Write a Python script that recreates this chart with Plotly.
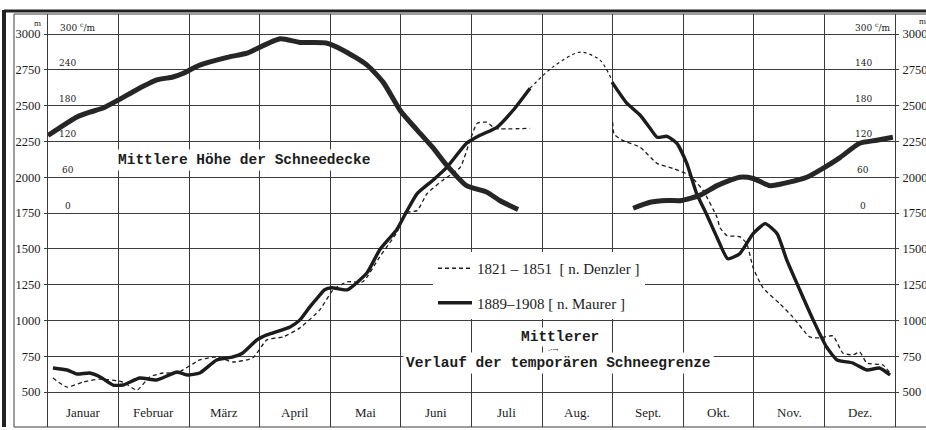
import plotly.graph_objects as go

# ---------------- data ----------------
months = ["Januar", "Februar", "März", "April", "Mai", "Juni", "Juli",
          "Aug.", "Sept.", "Okt.", "Nov.", "Dez."]
m_ticks = [500, 750, 1000, 1250, 1500, 1750, 2000, 2250, 2500, 2750, 3000]
cm_ticks = [0, 60, 120, 180, 240, 300]
cm_left_text = ["0", "60", "120", "180", "240", "300 <sup>c</sup>/m"]
cm_right_text = ["0", "60", "120", "180", "140", "300 <sup>c</sup>/m"]

# Mittlere Höhe der Schneedecke (cm)  - x in months (0 = 1. Jan)
depth_month = [0.0, 0.41, 0.59, 0.78, 0.99, 1.20, 1.54, 1.77, 1.91, 2.15, 2.54, 2.82, 2.95,
               3.29, 3.57, 3.94, 4.18, 4.52, 4.75, 4.99, 5.23, 5.45, 5.65, 5.93, 6.22, 6.40, 6.66,
               None,
               8.29, 8.53, 8.77, 8.98, 9.24, 9.48, 9.80, 9.99, 10.23, 10.47, 10.75, 10.98,
               11.22, 11.50, 11.74, 11.97]
depth_cm = [130, 161, 169, 176, 189, 203, 223, 228, 234, 248, 261, 268, 275,
            292, 286, 285, 273, 248, 219, 172, 139, 110, 80, 46, 35, 21, 6,
            None,
            8, 18, 21, 21, 30, 46, 60, 58, 46, 51, 60, 75, 93, 117, 122, 127]

# Schneegrenze 1889-1908 (n. Maurer), m
maurer_month = [0.07, 0.27, 0.41, 0.59, 0.74, 0.92, 1.06, 1.30, 1.54, 1.83, 1.97, 2.15, 2.39,
                2.62, 2.76, 2.96, 3.10, 3.43, 3.57, 3.71, 3.82, 3.92, 4.02, 4.24, 4.52, 4.70,
                4.94, 5.08, 5.23, 5.45, 5.65, 5.93, 6.12, 6.36, 6.59, 6.83,
                None,
                7.99, 8.20, 8.39, 8.53, 8.63, 8.77, 8.91, 9.05, 9.19, 9.33, 9.48, 9.63, 9.80,
                9.99, 10.16, 10.33, 10.47, 10.65, 10.84, 11.03, 11.18, 11.40, 11.60, 11.78, 11.93]
maurer_m = [668, 654, 626, 633, 605, 549, 549, 598, 584, 640, 619, 633, 724,
            745, 773, 864, 899, 955, 1004, 1095, 1160, 1214, 1228, 1214, 1333, 1494,
            1634, 1760, 1886, 1978, 2069, 2237, 2293, 2349, 2468, 2622,
            None,
            2664, 2517, 2433, 2342, 2279, 2286, 2237, 2097, 1886, 1742, 1578, 1431, 1466,
            1606, 1676, 1606, 1417, 1214, 1004, 815, 724, 703, 654, 668, 619]

# dotted interpolation (summer gap, 1889-1908)
gap_month = [6.83, 7.15, 7.54, 7.82, 7.99]
gap_m = [2622, 2769, 2874, 2818, 2678]

# Schneegrenze 1821-1851 (n. Denzler), m
denzler_month = [0.07, 0.27, 0.50, 0.74, 1.06, 1.26, 1.44, 1.63, 1.83, 2.15, 2.39, 2.62, 2.90,
                 3.10, 3.33, 3.57, 3.85, 4.04, 4.24, 4.46, 4.70, 4.94, 5.08, 5.23, 5.37, 5.59,
                 5.84, 5.98, 6.08, 6.22, 6.33, 6.83,
                 None,
                 8.00, 8.02, 8.14, 8.39, 8.63, 8.85, 9.09, 9.28, 9.48, 9.52, 9.62, 9.80, 9.90,
                 9.99, 10.13, 10.37, 10.55, 10.79, 10.93, 11.12, 11.26, 11.40, 11.50, 11.60,
                 11.83, 11.93]
denzler_m = [598, 535, 570, 591, 570, 514, 605, 633, 633, 724, 745, 710, 738,
             864, 885, 948, 1074, 1214, 1270, 1270, 1445, 1613, 1753, 1767, 1886, 1978,
             2069, 2258, 2377, 2384, 2342, 2342,
             None,
             2384, 2300, 2258, 2209, 2097, 2062, 2013, 1908, 1718, 1648, 1592, 1585, 1536,
             1368, 1228, 1116, 1025, 885, 878, 892, 773, 759, 780, 703, 689, 633]

# ---------------- layout constants ----------------
Y_MIN, Y_MAX = 256, 3140
CM_PER_M = 0.24      # 0 cm <-> 1750 m, 300 cm <-> 3000 m
CM_ZERO_M = 1750
ink = "#1c1c1c"
grid = "#3c3c3c"
serif = "Liberation Serif"
slab = "Liberation Mono"
num = "DejaVu Serif"

fig = go.Figure()

fig.add_trace(go.Scatter(x=depth_month, y=depth_cm, yaxis="y2", mode="lines",
                         line=dict(color="#262626", width=5, shape="spline", smoothing=0.6),
                         showlegend=False, hoverinfo="skip", connectgaps=False))
fig.add_trace(go.Scatter(x=denzler_month, y=denzler_m, mode="lines",
                         name="1821 – 1851  [ n. Denzler ]",
                         line=dict(color=ink, width=1.3, dash="4px,3px", shape="spline", smoothing=0.5),
                         legendgroup="a", connectgaps=False))
fig.add_trace(go.Scatter(x=maurer_month, y=maurer_m, mode="lines",
                         name="1889–1908 [ n. Maurer ]",
                         line=dict(color=ink, width=3.4, shape="spline", smoothing=0.5),
                         legendgroup="b", connectgaps=False))
fig.add_trace(go.Scatter(x=gap_month, y=gap_m, mode="lines",
                         line=dict(color=ink, width=1.2, dash="dot", shape="spline", smoothing=0.8),
                         showlegend=False, hoverinfo="skip"))
fig.add_trace(go.Scatter(x=[None], y=[None], yaxis="y3", showlegend=False, hoverinfo="skip"))

annotations = []
# month labels
for i, name in enumerate(months):
    annotations.append(dict(x=i + 0.5, y=360, xref="x", yref="y", text=name, showarrow=False,
                            font=dict(family=serif, size=13, color=ink)))
# cm labels
for v, t in zip(cm_ticks, cm_left_text):
    annotations.append(dict(x=0.28 if v != 300 else 0.14, y=v, xref="x", yref="y2", text=t,
                            showarrow=False, yshift=7, xanchor="center" if v != 300 else "left",
                            font=dict(family=num, size=9, color=ink)))
for v, t in zip(cm_ticks, cm_right_text):
    annotations.append(dict(x=11.55 if v != 300 else 11.97, y=v, xref="x", yref="y2", text=t,
                            showarrow=False, yshift=7, xanchor="center" if v != 300 else "right",
                            font=dict(family=num, size=9, color=ink)))
# units
annotations.append(dict(x=-0.006, y=0.962, xref="paper", yref="paper", text="m", showarrow=False,
                        xanchor="right", yanchor="bottom", font=dict(family=serif, size=9, color=ink)))
annotations.append(dict(x=1.026, y=0.965, xref="paper", yref="paper", text="m", showarrow=False,
                        xanchor="left", yanchor="bottom", font=dict(family=serif, size=9, color=ink)))
# titles
annotations.append(dict(x=2.78, y=2120, xref="x", yref="y", text="Mittlere Höhe der Schneedecke",
                        showarrow=False, bgcolor="white", borderpad=2,
                        font=dict(family=slab, size=14.5, color=ink, weight="bold")))
annotations.append(dict(x=7.25, y=885, xref="x", yref="y", text="Mittlerer",
                        showarrow=False, bgcolor="white", borderpad=1,
                        font=dict(family=slab, size=14.5, color=ink, weight="bold")))
annotations.append(dict(x=7.23, y=703, xref="x", yref="y",
                        text="Verlauf der temporären Schneegrenze",
                        showarrow=False, bgcolor="white", borderpad=2,
                        font=dict(family=slab, size=14.5, color=ink, weight="bold")))
annotations.append(dict(x=7.16, y=793, xref="x", yref="y", text="-·→",
                        showarrow=False, font=dict(family=num, size=7, color=ink)))

axis_common = dict(range=[Y_MIN, Y_MAX], tickvals=m_ticks, ticks="outside", ticklen=3,
                   tickcolor=grid, ticklabelstandoff=1, automargin=False,
                   tickfont=dict(family=serif, size=12.5, color=ink))

fig.update_layout(
    width=926, height=430,
    margin=dict(l=48, r=31, t=14, b=3, autoexpand=False),
    paper_bgcolor="white", plot_bgcolor="white",
    showlegend=True,
    legend=dict(x=(433 - 48) / 847, y=1 - (252 - 14) / 413, xanchor="left", yanchor="top",
                bgcolor="white", tracegroupgap=12, itemwidth=34,
                font=dict(family=serif, size=15, color=ink)),
    xaxis=dict(range=[0, 12], tickvals=list(range(13)), showticklabels=False, ticks="",
               automargin=False,
               showgrid=True, gridcolor=grid, gridwidth=1, zeroline=False, showline=False),
    yaxis=dict(**axis_common, showgrid=True, gridcolor=grid, gridwidth=0.8, zeroline=False,
               showline=True, linecolor=grid, linewidth=1),
    yaxis2=dict(range=[(Y_MIN - CM_ZERO_M) * CM_PER_M, (Y_MAX - CM_ZERO_M) * CM_PER_M],
                overlaying="y", visible=False, automargin=False),
    yaxis3=dict(**axis_common, overlaying="y", side="right", anchor="x", showgrid=False,
                zeroline=False, showline=True, linecolor=grid, linewidth=1),
    annotations=annotations,
    shapes=[
        dict(type="line", xref="paper", yref="paper", x0=-34 / 847, x1=878 / 847, y0=1, y1=1,
             line=dict(color=grid, width=1)),
        dict(type="line", xref="paper", yref="paper", x0=-44 / 847, x1=878 / 847,
             y0=1 + 3 / 413, y1=1 + 3 / 413, line=dict(color="#222", width=3)),
        dict(type="line", xref="paper", yref="paper", x0=-34 / 847, x1=-34 / 847, y0=0, y1=1,
             line=dict(color=grid, width=1)),
        dict(type="line", xref="paper", yref="paper", x0=-44 / 847, x1=-44 / 847, y0=0,
             y1=1 + 4 / 413, line=dict(color="#222", width=4)),
        dict(type="line", xref="paper", yref="paper", x0=-34 / 847, x1=878 / 847, y0=0, y1=0,
             line=dict(color=grid, width=1.2)),
    ],
)

fig.write_html("out.html", config={"displayModeBar": False},
               post_script="document.body.style.margin='0';document.body.style.overflow='hidden';")
